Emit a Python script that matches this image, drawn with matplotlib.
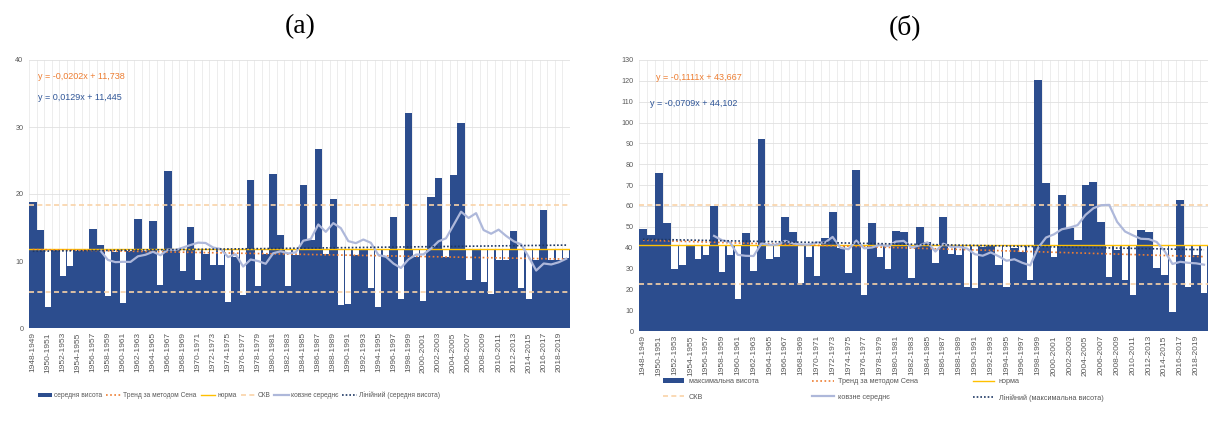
import matplotlib
matplotlib.use("Agg")
import matplotlib.pyplot as plt
import numpy as np
import pandas as pd

# hydrological years 1948-1949 ... 2019-2020
years = [f"{y}-{y + 1}" for y in range(1948, 2020)]

# (а) mean water level
mean_level = [18.75, 14.6, 3.2, 11.7, 7.8, 9.2, 11.5, 11.6, 14.8, 12.4,
              4.8, 11.3, 3.7, 11.5, 16.2, 11.5, 16.0, 6.4, 23.4, 11.6,
              8.5, 15.1, 7.2, 11.0, 9.4, 9.4, 3.9, 10.6, 5.0, 22.1,
              6.2, 11.0, 23.0, 13.9, 6.2, 10.9, 21.4, 13.1, 26.7, 11.1,
              19.25, 3.5, 3.6, 10.9, 11.6, 6.0, 3.2, 10.6, 16.5, 4.4,
              32.1, 10.6, 4.0, 19.5, 22.4, 10.6, 22.9, 30.6, 7.1, 11.6,
              6.9, 5.1, 10.1, 10.1, 14.5, 5.9, 4.4, 10.1, 17.6, 10.1,
              10.2, 10.4]

# (б) maximum water level
max_level = [48.8, 46.1, 75.7, 51.7, 29.8, 31.7, 41.3, 34.6, 36.5, 60.0,
             28.2, 36.5, 15.2, 46.9, 28.8, 92.0, 34.6, 35.4, 54.9, 47.7,
             22.9, 35.7, 26.6, 44.5, 57.0, 39.7, 28.0, 77.0, 17.3, 52.0,
             35.7, 29.8, 48.0, 47.7, 25.3, 50.0, 42.9, 32.5, 54.9, 37.0,
             36.5, 21.0, 20.5, 40.5, 41.3, 31.7, 21.0, 39.7, 38.0, 24.5,
             120.2, 70.9, 35.7, 65.0, 49.3, 43.7, 70.0, 71.7, 52.5, 26.0,
             38.9, 24.5, 17.3, 48.5, 47.7, 30.0, 26.9, 9.3, 62.9, 21.0,
             36.5, 18.0]

# trend equations shown on the charts (x = 1..72)
sen_a = (-0.0202, 11.738)
lin_a = (0.0129, 11.445)
sen_b = (-0.1111, 43.667)
lin_b = (-0.0709, 44.102)

BLUE = "#2C4D8E"
ORANGE = "#ED7D31"
NORM = "#FFC000"
SKV = "#F9D3A8"
MA = "#AEB8DA"
TREND = "#1F3864"
GREY = "#595959"

plt.rcParams["font.family"] = ["Liberation Sans", "DejaVu Sans"]


def draw_panel(ax, values, sen, lin, ymax, ystep, series_name):
    values = np.array(values)
    n = len(values)
    x = np.arange(n)
    mean = values.mean()
    sd = values.std(ddof=1)

    # grid
    for xi in x:
        ax.axvline(xi - 0.5, color="#E6E6E6", lw=0.5, zorder=0)
    for yv in np.arange(0, ymax + 1, ystep):
        ax.axhline(yv, color="#E0E0E0", lw=0.6, zorder=0)

    # columns: dark fill up to value or mean, white gap between value and mean
    bars = ax.bar(x, np.maximum(values, mean), width=1.0, color=BLUE, zorder=2,
                  label=series_name)
    low = values < mean
    ax.bar(x[low], mean - values[low], bottom=values[low], width=0.8,
           color="white", zorder=2)

    t = x + 1
    l_sen, = ax.plot(x, sen[0] * t + sen[1], color=ORANGE, lw=1.2,
                     ls=(0, (1, 1.5)), zorder=4, label="Тренд за методом Сена")
    l_norm, = ax.plot([-0.5, n - 0.5], [mean, mean], color=NORM, lw=1.0,
                      zorder=3, label="норма")
    l_skv, = ax.plot([-0.5, n - 0.5], [mean + sd, mean + sd], color=SKV, lw=1.2,
                     ls=(0, (3, 2)), zorder=3, label="СКВ")
    ax.plot([-0.5, n - 0.5], [mean - sd, mean - sd], color=SKV, lw=1.2,
            ls=(0, (3, 2)), zorder=3)
    ma = pd.Series(values).rolling(10).mean()
    l_ma, = ax.plot(x, ma, color=MA, lw=1.6, zorder=4, label="ковзне середнє")
    l_lin, = ax.plot(x, lin[0] * t + lin[1], color=TREND, lw=1.2,
                     ls=(0, (1, 1.2)), zorder=4,
                     label=f"Лінійний ({series_name})")

    ax.set_xlim(-0.5, n - 0.5)
    ax.set_ylim(0, ymax)
    ax.set_yticks(np.arange(0, ymax + 1, ystep))
    ax.set_xticks(x[::2])
    ax.set_xticklabels(years[::2], rotation=90)
    ax.tick_params(axis="x", labelsize=6, colors=GREY, length=0, pad=3)
    ax.tick_params(axis="y", labelsize=5.2, colors=GREY, length=0, pad=4)
    for s in ax.spines.values():
        s.set_visible(False)

    def eq(k, b):
        sign = "+" if b >= 0 else "-"
        return f"y = {k:.4f}x {sign} {abs(b):.3f}".replace(".", ",")

    handles = [bars, l_sen, l_norm, l_skv, l_ma, l_lin]
    return eq(*sen), eq(*lin), handles


fig = plt.figure(figsize=(12.08, 4.23), dpi=100)
W, H = 1208, 423

ax1 = fig.add_axes([29 / W, 1 - 328 / H, 541 / W, 268 / H])
e1, e2, h = draw_panel(ax1, mean_level, sen_a, lin_a, 40, 10, "середня висота")
ax1.text(0.017, 0.93, e1, transform=ax1.transAxes, color=ORANGE, fontsize=6.5)
ax1.text(0.017, 0.85, e2, transform=ax1.transAxes, color="#2F5597", fontsize=6.5)
ax1.legend(handles=h, loc="upper left", bbox_to_anchor=(0.005, -0.215), ncol=6,
           frameon=False, fontsize=4.8, labelcolor=GREY, handlelength=2.2,
           columnspacing=0.6, handletextpad=0.3)

ax2 = fig.add_axes([639 / W, 1 - 331 / H, 569 / W, 271 / H])
e1, e2, h = draw_panel(ax2, max_level, sen_b, lin_b, 130, 10, "максимальна висота")
ax2.text(0.03, 0.925, e1, transform=ax2.transAxes, color=ORANGE, fontsize=6.5)
ax2.text(0.02, 0.83, e2, transform=ax2.transAxes, color="#2F5597", fontsize=6.5)
# row-wise order for a 3-column legend: bar, Sen, norm / SKV, MA, linear
order = [0, 3, 1, 4, 2, 5]
ax2.legend(handles=[h[i] for i in order], loc="upper left",
           bbox_to_anchor=(0.03, -0.15), ncol=3, frameon=False, fontsize=5.2,
           labelcolor=GREY, handlelength=3, columnspacing=7.5,
           handletextpad=0.6, labelspacing=1.2)

fig.text(300 / W, 1 - 27 / H, "(а)", fontsize=20, ha="center", va="center",
         family="Liberation Serif")
fig.text(905 / W, 1 - 27 / H, "(б)", fontsize=20, ha="center", va="center",
         family="Liberation Serif")

fig.savefig("out.png", dpi=100)
